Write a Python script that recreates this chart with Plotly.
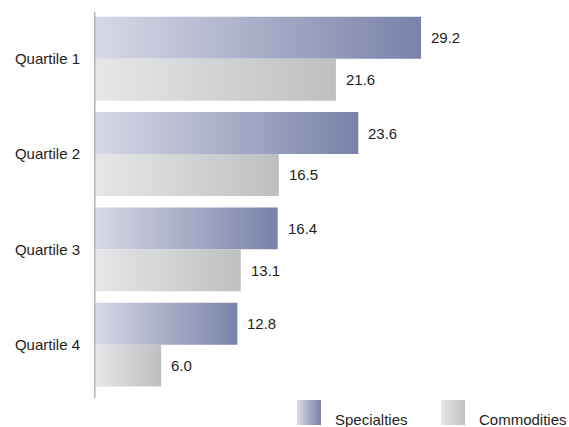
import plotly.graph_objects as go

# Data
categories = ["Quartile 1", "Quartile 2", "Quartile 3", "Quartile 4"]
specialties = [29.2, 23.6, 16.4, 12.8]
commodities = [21.6, 16.5, 13.1, 6.0]
series_names = ["Specialties", "Commodities"]

W, H = 569, 427
FONT = "Liberation Sans, Arial, sans-serif"
TEXT = "#1e1e1e"
FS = 15

spec_scale = [[0, "#d8d9e7"], [1, "#7982a9"]]
comm_scale = [[0, "#e6e7e8"], [1, "#bebfc0"]]

BAR_H = 0.44  # thickness of each bar in category units

fig = go.Figure()


def add_bar(value, y0, y1, scale):
    fig.add_trace(go.Scatter(
        x=[0, value, value, 0, 0],
        y=[y0, y0, y1, y1, y0],
        mode="lines", line=dict(width=0),
        fill="toself",
        fillgradient=dict(type="horizontal", colorscale=scale),
        hoverinfo="skip", showlegend=False,
        xaxis="x", yaxis="y",
    ))


annotations = []
for i, (s, c) in enumerate(zip(specialties, commodities)):
    add_bar(s, i - BAR_H, i, spec_scale)
    add_bar(c, i, i + BAR_H, comm_scale)
    annotations.append(dict(x=s, y=i - BAR_H / 2, text=f"{s:.1f}", xref="x", yref="y",
                            xanchor="left", yanchor="middle", xshift=8, showarrow=False,
                            font=dict(family=FONT, size=FS, color=TEXT)))
    annotations.append(dict(x=c, y=i + BAR_H / 2, text=f"{c:.1f}", xref="x", yref="y",
                            xanchor="left", yanchor="middle", xshift=8, showarrow=False,
                            font=dict(family=FONT, size=FS, color=TEXT)))

# Custom legend drawn on a strip axis at the bottom (pixel units)
legend_items = [(series_names[0], spec_scale, 297), (series_names[1], comm_scale, 441)]
for name, scale, x0 in legend_items:
    fig.add_trace(go.Scatter(
        x=[x0, x0 + 24, x0 + 24, x0, x0],
        y=[2, 2, 27, 27, 2],
        mode="lines", line=dict(width=0), fill="toself",
        fillgradient=dict(type="horizontal", colorscale=scale),
        hoverinfo="skip", showlegend=False, xaxis="x2", yaxis="y2",
    ))
    annotations.append(dict(x=x0 + 36, y=0, yshift=-3, text=name, xref="x2", yref="y2",
                            xanchor="left", yanchor="bottom", showarrow=False,
                            font=dict(family=FONT, size=FS, color=TEXT)))

plot_left = 94 / W
plot_bottom = (H - 398) / H
plot_top = (H - 12) / H

fig.add_shape(type="line", xref="x", yref="paper", x0=0, x1=0, y0=plot_bottom, y1=plot_top,
              line=dict(color="#b3b3b3", width=3))

fig.update_layout(
    width=W, height=H,
    margin=dict(l=0, r=0, t=0, b=0),
    paper_bgcolor="white", plot_bgcolor="white",
    showlegend=False,
    annotations=annotations,
    xaxis=dict(domain=[plot_left, 1], range=[0, (W - 94) / 11.2], visible=False, fixedrange=True),
    yaxis=dict(domain=[plot_bottom, plot_top], range=[3.56, -0.49],
               tickvals=list(range(len(categories))), ticktext=categories,
               showgrid=False, zeroline=False, showline=False, ticks="",
               ticklabelstandoff=13,
               tickfont=dict(family=FONT, size=FS, color=TEXT), fixedrange=True),
    xaxis2=dict(domain=[0, 1], range=[0, W], visible=False, anchor="y2", fixedrange=True),
    yaxis2=dict(domain=[0, plot_bottom], range=[0, H - 398], visible=False, anchor="x2",
                fixedrange=True),
)

fig.write_html("out.html")
